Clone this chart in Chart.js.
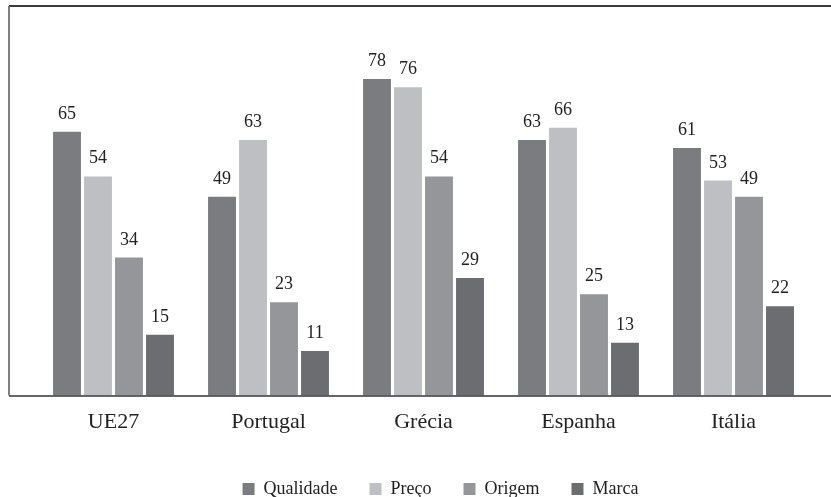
<!DOCTYPE html>
<html>
<head>
<meta charset="utf-8">
<script src="https://cdn.jsdelivr.net/npm/chart.js@4"></script>
<style>
	html, body { margin: 0; padding: 0; background: #fff; }
	#box { width: 831px; height: 497px; }
</style>
</head>
<body>
<div id="box"><canvas id="bargraph"></canvas></div>
<script>
var paises = ['UE27', 'Portugal', 'Grécia', 'Espanha', 'Itália'];
var qualidade = [65, 49, 78, 63, 61];
var preco = [54, 63, 76, 66, 53];
var origem = [34, 23, 54, 25, 49];
var marca = [15, 11, 29, 13, 22];

var serif = '"Liberation Serif", "DejaVu Serif", serif';

// frame: top line, left line and base line, a bit wider than the bars area
var framePlugin = {
	id: 'frame',
	afterLayout: function(chart) {
		// legend sits a little right of the middle in the original
		if (chart.legend) {
			chart.legend.left += 17;
			chart.legend.right += 17;
		}
	},
	afterDraw: function(chart) {
		var c = chart.ctx, a = chart.chartArea;
		var left = a.left - 27;
		c.save();
		c.strokeStyle = '#3c3c3c';
		c.lineWidth = 2;
		c.beginPath();
		c.moveTo(left, a.top);
		c.lineTo(chart.width, a.top);
		c.stroke();
		c.lineWidth = 1.5;
		c.strokeStyle = '#555';
		c.beginPath();
		c.moveTo(left, a.top);
		c.lineTo(left, a.bottom);
		c.stroke();
		c.strokeStyle = '#333';
		c.beginPath();
		c.moveTo(left, a.bottom + 0.5);
		c.lineTo(chart.width, a.bottom + 0.5);
		c.stroke();
		c.restore();
	}
};

// numbers over the bars
var valuesPlugin = {
	id: 'values',
	afterDatasetsDraw: function(chart) {
		var c = chart.ctx;
		c.save();
		c.font = '18px ' + serif;
		c.fillStyle = '#222';
		c.textAlign = 'center';
		c.textBaseline = 'alphabetic';
		chart.data.datasets.forEach(function(ds, i) {
			chart.getDatasetMeta(i).data.forEach(function(bar, j) {
				c.fillText(ds.data[j], bar.x, bar.y - 13);
			});
		});
		c.restore();
	}
};

var chartdata = {
	labels: paises,
	datasets: [
		{ label: 'Qualidade', backgroundColor: '#7b7c80', data: qualidade },
		{ label: 'Preço', backgroundColor: '#bebfc3', data: preco },
		{ label: 'Origem', backgroundColor: '#959699', data: origem },
		{ label: 'Marca', backgroundColor: '#6c6d71', data: marca }
	]
};

var ctx = document.getElementById('bargraph');
var barGraph = new Chart(ctx, {
	type: 'bar',
	data: chartdata,
	plugins: [framePlugin, valuesPlugin],
	options: {
		responsive: true,
		maintainAspectRatio: false,
		animation: false,
		layout: { padding: { left: 36, right: 20, top: 6, bottom: -11 } },
		plugins: {
			legend: {
				position: 'bottom',
				labels: {
					boxWidth: 12,
					boxHeight: 12,
					padding: 32,
					color: '#222',
					font: { family: serif, size: 18 }
				}
			},
			tooltip: { enabled: false }
		},
		scales: {
			x: {
				grid: { display: false, drawTicks: false },
				border: { display: false },
				ticks: { color: '#222', padding: 13, font: { family: serif, size: 22 } }
			},
			y: {
				display: false,
				min: 0,
				max: 96
			}
		}
	}
});
</script>
</body>
</html>
